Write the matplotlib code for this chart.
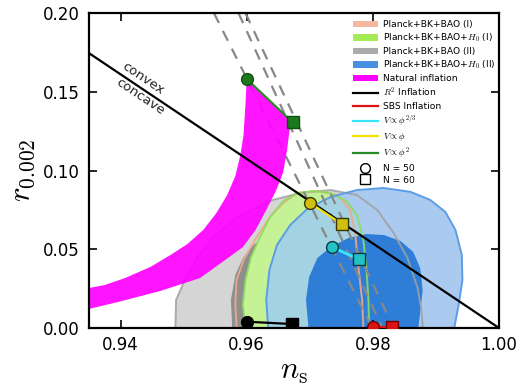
import matplotlib
matplotlib.use("Agg")
import matplotlib.pyplot as plt
from matplotlib.patches import Patch
from matplotlib.lines import Line2D

plt.rcParams['mathtext.fontset'] = 'cm'
plt.rcParams['font.family'] = ['DejaVu Sans']

# ---- axes ----
ns_lim = (0.935, 1.0)
r_lim = (0.0, 0.20)
ns_ticks = [0.94, 0.96, 0.98, 1.00]
r_ticks = [0.00, 0.05, 0.10, 0.15, 0.20]

# ---- data constraints (contour outlines) ----
gray95_ns = [0.9487, 0.9488, 0.9502, 0.9521, 0.9550, 0.9590, 0.9641, 0.9685, 0.9733,
             0.9775, 0.9807, 0.9833, 0.9855, 0.9871, 0.9877, 0.9879]
gray95_r = [0.0, 0.0178, 0.0305, 0.0444, 0.0590, 0.0717, 0.0813, 0.0857, 0.0876,
            0.0844, 0.0749, 0.0603, 0.0444, 0.0254, 0.0114, 0.0]
gray68_ns = [0.9577, 0.9575, 0.9582, 0.9594, 0.9609, 0.9629, 0.9661, 0.9701, 0.9748,
             0.9788, 0.9820, 0.9841, 0.9850, 0.9852]
gray68_r = [0.0, 0.0178, 0.0337, 0.0444, 0.0521, 0.0584, 0.0635, 0.0660, 0.0654,
            0.0603, 0.0508, 0.0381, 0.0210, 0.0]
salmon_ns = [0.9584, 0.9582, 0.9584, 0.9595, 0.9616, 0.9637, 0.9658, 0.9680, 0.9712,
             0.9744, 0.9764, 0.9772, 0.9777, 0.9783, 0.9785]
salmon_r = [0.0, 0.0159, 0.0305, 0.0432, 0.0578, 0.0705, 0.0794, 0.0857, 0.0870,
            0.0844, 0.0749, 0.0603, 0.0387, 0.0178, 0.0]
green_ns = [0.9598, 0.9594, 0.9598, 0.9607, 0.9621, 0.9637, 0.9658, 0.9680, 0.9706,
            0.9733, 0.9758, 0.9775, 0.9785, 0.9790, 0.9793, 0.9794]
green_r = [0.0, 0.0146, 0.0305, 0.0451, 0.0578, 0.0705, 0.0806, 0.0857, 0.0870,
           0.0857, 0.0806, 0.0717, 0.0559, 0.0368, 0.0178, 0.0]
lblue_ns = [0.9634, 0.9631, 0.9636, 0.9648, 0.9669, 0.9696, 0.9733, 0.9775, 0.9817,
            0.9860, 0.9891, 0.9915, 0.9931, 0.9941, 0.9942, 0.9936, 0.9929]
lblue_r = [0.0, 0.0178, 0.0368, 0.0527, 0.0654, 0.0756, 0.0832, 0.0876, 0.0889,
           0.0864, 0.0813, 0.0737, 0.0622, 0.0464, 0.0305, 0.0146, 0.0]
dblue_ns = [0.9698, 0.9694, 0.9699, 0.9712, 0.9733, 0.9761, 0.9790, 0.9818, 0.9844,
            0.9864, 0.9875, 0.9879, 0.9875, 0.9872]
dblue_r = [0.0, 0.0178, 0.0324, 0.0444, 0.0514, 0.0571, 0.0597, 0.0590, 0.0552,
           0.0483, 0.0381, 0.0241, 0.0095, 0.0]

# ---- natural inflation band (N = 50 edge and N = 60 edge) ----
ni_n50_ns = [0.9600, 0.9598, 0.9595, 0.9590, 0.9582, 0.9569, 0.9552, 0.9531, 0.9506,
             0.9479, 0.9447, 0.9407, 0.9375, 0.9350]
ni_n50_r = [0.1581, 0.1416, 0.1225, 0.1098, 0.0965, 0.0844, 0.0730, 0.0622, 0.0533,
            0.0463, 0.0387, 0.0317, 0.0273, 0.0254]
ni_n60_ns = [0.9350, 0.9396, 0.9463, 0.9526, 0.9566, 0.9594, 0.9614, 0.9631, 0.9647,
             0.9658, 0.9664, 0.9668, 0.9673]
ni_n60_r = [0.0121, 0.0165, 0.0235, 0.0317, 0.0432, 0.0514, 0.0622, 0.0749, 0.0876,
            0.0990, 0.1130, 0.1257, 0.1305]

# ---- model predictions (N = 50, N = 60) ----
phi2_ns, phi2_r = [0.9600, 0.9673], [0.1581, 0.1305]
phi1_ns, phi1_r = [0.9701, 0.9751], [0.0792, 0.0660]
phi23_ns, phi23_r = [0.9736, 0.9778], [0.0512, 0.0436]
r2_ns, r2_r = [0.9600, 0.9672], [0.0040, 0.0025]
sbs_ns, sbs_r = [0.9801, 0.9831], [0.0008, 0.0008]

# ---- straight guide lines ----
boundary_ns, boundary_r = [0.935, 1.0], [0.1745, 0.0]
dash_a_ns, dash_a_r = [0.9548, 0.9799], [0.20, 0.0]
dash_b_ns, dash_b_r = [0.9587, 0.9815], [0.20, 0.0]
dash_c_ns, dash_c_r = [0.9598, 0.9833], [0.20, 0.0]

legend_labels = ["Planck+BK+BAO (I)", "Planck+BK+BAO+$H_0$ (I)", "Planck+BK+BAO (II)",
                 "Planck+BK+BAO+$H_0$ (II)", "Natural inflation", "$R^2$ Inflation",
                 "SBS Inflation", r"$V\propto\phi^{2/3}$", r"$V\propto\phi$",
                 r"$V\propto\phi^2$", "N = 50", "N = 60"]

fig = plt.figure(figsize=(5.18, 3.89), dpi=100)
ax = fig.add_axes([89 / 518, 1 - 328 / 389, 410 / 518, 315 / 389])

# filled regions
ax.fill(gray95_ns, gray95_r, color='#d5d5d5', lw=0, zorder=1.0)
ax.fill(gray68_ns, gray68_r, color='#8e8e8e', lw=0, zorder=1.1)
ax.fill(green_ns, green_r, color='#c6f296', lw=0, zorder=1.2)
blue_patch = ax.fill(lblue_ns, lblue_r, color='#abcaf0', lw=0, zorder=1.3)[0]
overlap = ax.fill(green_ns, green_r, color='#a3d2e2', lw=0, zorder=1.35)[0]
overlap.set_clip_path(blue_patch)
ax.fill(dblue_ns, dblue_r, color='#2e7ed8', lw=0, zorder=1.4)

# outlines
ax.plot(gray95_ns, gray95_r, color='#a0a0a0', lw=1.4, alpha=0.85, zorder=1.5)
ax.plot(salmon_ns, salmon_r, color='#eea98c', lw=1.4, alpha=0.9, zorder=1.5)
ax.plot(green_ns, green_r, color='#8edc5c', lw=1.4, alpha=0.9, zorder=1.5)
ax.plot(lblue_ns, lblue_r, color='#5c9de6', lw=1.4, zorder=1.5)

# dashed guide lines
for xs, ys in [(dash_a_ns, dash_a_r), (dash_b_ns, dash_b_r), (dash_c_ns, dash_c_r)]:
    ax.plot(xs, ys, color='#888888', lw=1.6, ls=(0, (5, 4)), zorder=1.55)

# natural inflation band
band_ns = ni_n50_ns + ni_n60_ns
band_r = ni_n50_r + ni_n60_r
ax.fill(band_ns, band_r, color='#ff00ff', alpha=0.92, lw=0, zorder=1.6)

# convex / concave boundary
ax.plot(boundary_ns, boundary_r, color='black', lw=1.6, zorder=3)

# model predictions
def model(xs, ys, line_c, face_c, edge_c, lw):
    ax.plot(xs, ys, color=line_c, lw=lw, zorder=4)
    ax.plot(xs[0], ys[0], 'o', ms=8.5, mfc=face_c, mec=edge_c, mew=1.0, zorder=5)
    ax.plot(xs[1], ys[1], 's', ms=8.5, mfc=face_c, mec=edge_c, mew=1.0, zorder=5)

model(phi2_ns, phi2_r, '#2a8a2a', '#1c7a1c', '#124d12', 1.6)
model(phi1_ns, phi1_r, '#f2e400', '#d2c010', '#3a3500', 1.6)
model(phi23_ns, phi23_r, '#38e4ff', '#22c2c6', '#0a3a3a', 2.0)
model(r2_ns, r2_r, 'black', 'black', 'black', 1.6)
model(sbs_ns, sbs_r, '#e01010', '#dd1111', '#700000', 1.6)

ax.text(0.9436, 0.1587, 'convex', rotation=-34, fontsize=9.5, ha='center', va='center',
        rotation_mode='anchor', color='#222222')
ax.text(0.9431, 0.1467, 'concave', rotation=-34, fontsize=9.5, ha='center', va='center',
        rotation_mode='anchor', color='#222222')

ax.set_xlim(*ns_lim)
ax.set_ylim(*r_lim)
ax.set_xticks(ns_ticks)
ax.set_yticks(r_ticks)
ax.set_xticklabels([f"{v:.2f}" for v in ns_ticks])
ax.set_yticklabels([f"{v:.2f}" for v in r_ticks])
ax.tick_params(direction='in', top=True, right=True, length=6, width=1.2,
               labelsize=12)
ax.tick_params(axis='x', pad=6)
ax.tick_params(axis='y', pad=7)
for s in ax.spines.values():
    s.set_linewidth(1.6)

ax.set_xlabel(r'$n_{\rm s}$', fontsize=22, labelpad=2)
ax.set_ylabel(r'$r_{0.002}$', fontsize=22, labelpad=4)

handles = [
    Patch(facecolor='#f4b89f', edgecolor='none'),
    Patch(facecolor='#a4ec55', edgecolor='none'),
    Patch(facecolor='#aaaaaa', edgecolor='none'),
    Patch(facecolor='#4a90e2', edgecolor='none'),
    Patch(facecolor='#ff00ff', edgecolor='none'),
    Line2D([], [], color='black', lw=1.6),
    Line2D([], [], color='#e01010', lw=1.6),
    Line2D([], [], color='#38e4ff', lw=1.6),
    Line2D([], [], color='#f2e400', lw=1.6),
    Line2D([], [], color='#2a8a2a', lw=1.6),
    Line2D([], [], ls='none', marker='o', ms=7, mfc='white', mec='black'),
    Line2D([], [], ls='none', marker='s', ms=7, mfc='white', mec='black'),
]
ax.legend(handles, legend_labels, loc='upper left', bbox_to_anchor=(0.644, 0.978),
          frameon=False, fontsize=6.6, handlelength=2.7, handletextpad=0.55,
          labelspacing=0.3, borderpad=0, borderaxespad=0, numpoints=1)

fig.savefig('out.png', dpi=100)
